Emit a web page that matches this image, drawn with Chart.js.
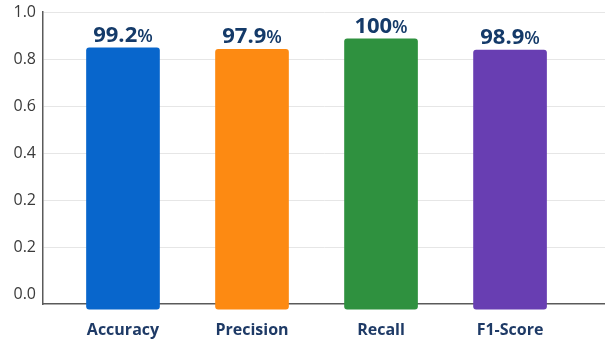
<!DOCTYPE html>
<html>
<head>
<meta charset="utf-8">
<script src="https://cdn.jsdelivr.net/npm/chart.js@4"></script>
<style>
  html, body { margin: 0; padding: 0; background: #ffffff; }
  #wrap { width: 605px; height: 344px; position: relative; }
</style>
</head>
<body>
<div id="wrap"><canvas id="c" width="605" height="344"></canvas></div>
<script>
// Categories and values
const categories = ['Accuracy', 'Precision', 'Recall', 'F1-Score'];
// bar tops, measured in tick steps on the axis (0 = "0.0" tick, 6 = "1.0" tick)
const barHeights = [5.24, 5.21, 5.43, 5.19];
const valueLabels = ['99.2', '97.9', '100', '98.9'];
const yTickLabels = ['0.0', '0.2', '0.2', '0.4', '0.6', '0.8', '1.0'];
const barColors = ['#0866cc', '#fd8a12', '#2f913f', '#683eb2'];

const axisMin = -0.2;
const barBase = -0.31;

const valueLabelPlugin = {
  id: 'valueLabels',
  afterDatasetsDraw(chart) {
    const ctx = chart.ctx;
    const meta = chart.getDatasetMeta(0);
    ctx.save();
    ctx.fillStyle = '#143a69';
    ctx.textBaseline = 'alphabetic';
    meta.data.forEach((bar, i) => {
      const num = valueLabels[i];
      ctx.font = 'bold 22px "Open Sans"';
      const w1 = ctx.measureText(num).width;
      ctx.font = '600 18px "Open Sans"';
      const w2 = ctx.measureText('%').width;
      const startX = bar.x - (w1 + w2) / 2;
      const y = bar.y - 6;
      ctx.textAlign = 'left';
      ctx.font = 'bold 22px "Open Sans"';
      ctx.fillText(num, startX, y);
      ctx.font = '600 18px "Open Sans"';
      ctx.fillText('%', startX + w1, y);
    });
    ctx.restore();
  }
};

new Chart(document.getElementById('c'), {
  type: 'bar',
  data: {
    datasets: [{
      data: categories.map((c, i) => ({ x: i + 1, y: [barBase, barHeights[i]] })),
      backgroundColor: barColors,
      borderRadius: 3,
      borderSkipped: false,
      barThickness: 73,
      clip: false
    }]
  },
  options: {
    responsive: false,
    animation: false,
    layout: { padding: { top: 12, right: 0, left: 0, bottom: 0 } },
    plugins: { legend: { display: false }, tooltip: { enabled: false } },
    scales: {
      x: {
        type: 'linear',
        offset: false,
        min: 0.38,
        max: 4.736,
        afterBuildTicks(scale) { scale.ticks = categories.map((c, i) => ({ value: i + 1 })); },
        afterFit(scale) { scale.height = 40; scale.paddingLeft = 0; scale.paddingRight = 0; },
        grid: { display: false, drawTicks: false },
        border: { display: true, color: '#5a5a5a', width: 1.5 },
        ticks: {
          padding: 17,
          autoSkip: false,
          maxRotation: 0,
          color: '#1e3a66',
          font: { family: '"Open Sans"', size: 16, weight: 'bold' },
          callback: (v) => categories[v - 1]
        }
      },
      y: {
        type: 'linear',
        min: axisMin,
        max: 6,
        afterBuildTicks(scale) { scale.ticks = yTickLabels.map((t, i) => ({ value: i })); },
        afterFit(scale) { scale.width = 43; scale.paddingTop = 0; scale.paddingBottom = 0; },
        grid: {
          drawTicks: false,
          color: (c) => (c.tick && c.tick.value === 0 ? 'rgba(0,0,0,0)' : '#e6e6e6'),
          lineWidth: 1
        },
        border: { display: true, color: '#5a5a5a', width: 1.5 },
        ticks: {
          padding: 7,
          color: '#3a3a3a',
          font: { family: '"Open Sans"', size: 16 },
          callback: (v) => yTickLabels[v]
        }
      }
    }
  },
  plugins: [valueLabelPlugin]
});
</script>
</body>
</html>
